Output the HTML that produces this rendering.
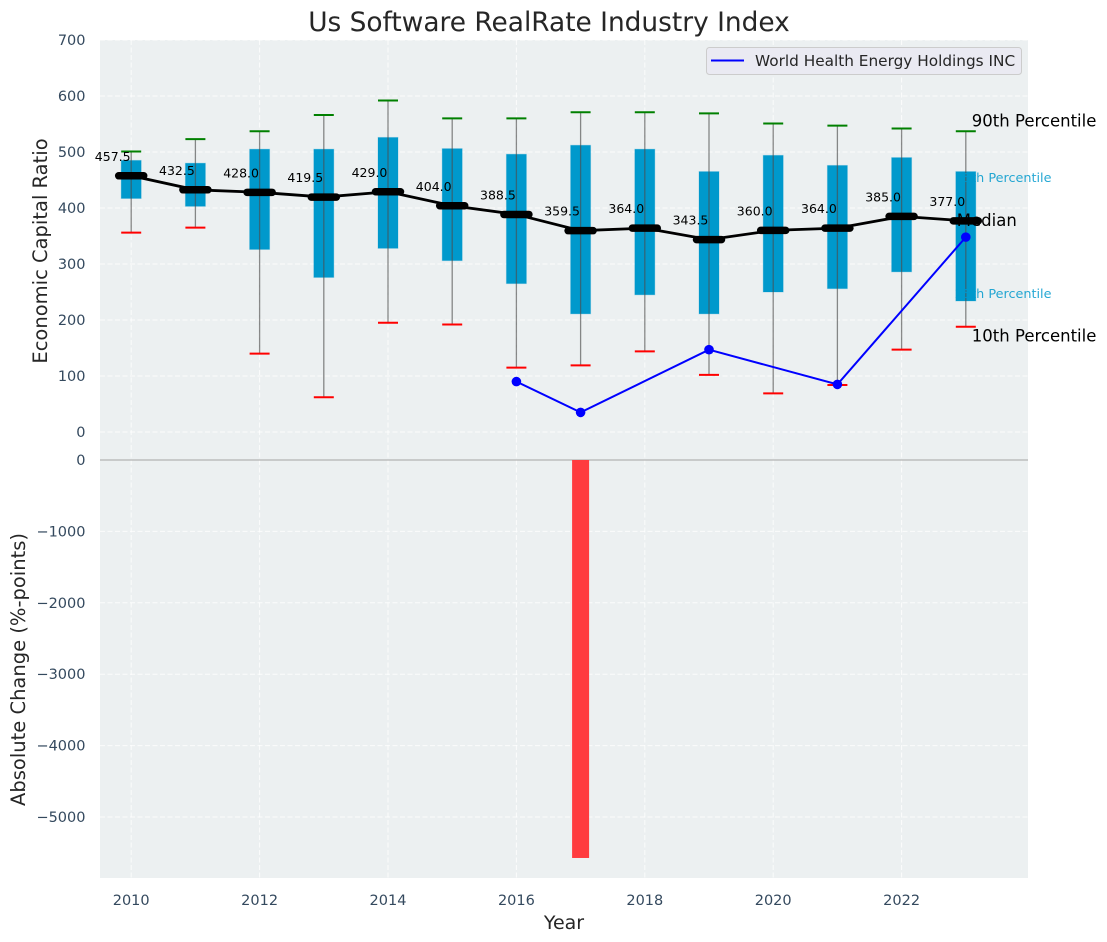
<!DOCTYPE html>
<html lang="en">
<head>
<meta charset="utf-8">
<title>Us Software RealRate Industry Index</title>
<style>
html,body{margin:0;padding:0;background:#fff;}
svg{display:block;font-family:"DejaVu Sans","Liberation Sans",sans-serif;}
</style>
</head>
<body>
<svg id="chart" xmlns="http://www.w3.org/2000/svg" width="1107" height="942" viewBox="0 0 1107 942">
  <rect x="0" y="0" width="1107" height="942" fill="#ffffff"/>
  <rect x="100" y="40" width="928" height="838" fill="#ecf0f1"/>
  <g id="grid"></g>
  <g id="change"></g>
  <g id="boxes"></g>
  <g id="medians"></g>
  <g id="company"></g>
  <g id="ticks"></g>
  <g id="annotations"></g>
  <text x="549" y="31" text-anchor="middle" font-size="26.4px" fill="#262626">Us Software RealRate Industry Index</text>
  <text transform="translate(47,251) rotate(-90)" text-anchor="middle" font-size="19.5px" fill="#262626">Economic Capital Ratio</text>
  <text transform="translate(25,669.5) rotate(-90)" text-anchor="middle" font-size="19.5px" fill="#262626">Absolute Change (%-points)</text>
  <text x="564" y="929" text-anchor="middle" font-size="19px" fill="#262626">Year</text>
  <g>
    <rect x="706.5" y="47.5" width="315" height="27" rx="3" fill="#eaeaf2" stroke="#cccccc" stroke-width="1"/>
    <line x1="711" y1="60.5" x2="744" y2="60.5" stroke="#0000ff" stroke-width="2"/>
    <text x="755" y="66" font-size="15.3px" fill="#262626">World Health Energy Holdings INC</text>
  </g>
</svg>
<script>
const years = [2010,2011,2012,2013,2014,2015,2016,2017,2018,2019,2020,2021,2022,2023];
const p10Values = [356,365,140,62,195,192,115,119,144,102,69,84,147,188];
const q1Values = [417,403,326,276,328,306,265,211,245,211,250,256,286,234];
const medianValues = [457.5,432.5,428,419.5,429,404,388.5,359.5,364,343.5,360,364,385,377];
const q3Values = [485,480,505,505,526,506,496,512,505,465,494,476,490,465];
const p90Values = [501,523,537,566,592,560,560,571,571,569,551,547,542,537];
const companyYears = [2016,2017,2019,2021,2023];
const companyValues = [90,35,147,85,348];
const changeYears = [2017];
const changeValues = [-5574];
const xTickLabels = [2010,2012,2014,2016,2018,2020,2022];
const topTickLabels = [0,100,200,300,400,500,600,700];
const bottomTickLabels = [0,-1000,-2000,-3000,-4000,-5000];

const NS = 'http://www.w3.org/2000/svg';
function xAxis(v){ return 131.2 + (v - 2010) * 64.2; }
function yTop(v){ return 432 - v * 0.56; }
function yBottom(v){ return 460 - v * 0.0714; }
function mk(parentId, tag, attrs, text){
  const el = document.createElementNS(NS, tag);
  for (const k in attrs) el.setAttribute(k, attrs[k]);
  if (text !== undefined) el.textContent = text;
  document.getElementById(parentId).appendChild(el);
  return el;
}
const gridStyle = {stroke:'#ffffff','stroke-width':1,'stroke-dasharray':'5 2.5','stroke-opacity':0.8};
let el;

/* grid */
xTickLabels.forEach(function(t){
  el = mk('grid','line',Object.assign({x1:xAxis(t),x2:xAxis(t),y1:40,y2:878},gridStyle));
  
  
});
topTickLabels.forEach(function(t){
  el = mk('grid','line',Object.assign({x1:100,x2:1028,y1:yTop(t),y2:yTop(t)},gridStyle));
  
  
});
bottomTickLabels.forEach(function(t){
  if (t === 0) return;
  el = mk('grid','line',Object.assign({x1:100,x2:1028,y1:yBottom(t),y2:yBottom(t)},gridStyle));
  
  
});

/* change bars */
el = mk('change','line',{x1:100,x2:1028,y1:yBottom(0),y2:yBottom(0),stroke:'#b3b3b3','stroke-width':1.2});


changeYears.forEach(function(y,i){
  const v = changeValues[i];
  el = mk('change','rect',{x:xAxis(y)-8.5,width:17,y:yBottom(0),height:yBottom(v)-yBottom(0),fill:'#ff3b3f'});
  
  
});

/* boxes and whiskers */
years.forEach(function(y,i){
  const x = xAxis(y);
  el = mk('boxes','rect',{x:x-10,width:20,y:yTop(q3Values[i]),height:yTop(q1Values[i])-yTop(q3Values[i]),fill:'#0099cc',stroke:'#0099cc','stroke-opacity':0.25,'stroke-width':1});
  
  
  el = mk('boxes','line',{x1:x,x2:x,y1:yTop(p90Values[i]),y2:yTop(p10Values[i]),stroke:'#4d4d4d','stroke-opacity':0.65,'stroke-width':1.3});
  
  
  el = mk('boxes','line',{x1:x-10,x2:x+10,y1:yTop(p90Values[i]),y2:yTop(p90Values[i]),stroke:'#008000','stroke-width':2});
  
  
  el = mk('boxes','line',{x1:x-10,x2:x+10,y1:yTop(p10Values[i]),y2:yTop(p10Values[i]),stroke:'#ff0000','stroke-width':2});
  
  
});

/* median line */
el = mk('medians','polyline',{points:years.map(function(y,i){return xAxis(y)+','+yTop(medianValues[i]);}).join(' '),fill:'none',stroke:'#000000','stroke-width':2.8});


years.forEach(function(y,i){
  const x = xAxis(y), yy = yTop(medianValues[i]);
  el = mk('medians','line',{x1:x-12.5,x2:x+12.5,y1:yy,y2:yy,stroke:'#000000','stroke-width':7.5,'stroke-linecap':'round'});
  
  
  el = mk('medians','text',{x:x-18.5,y:yy-15,'text-anchor':'middle','font-size':'12.5px',fill:'#000000'},medianValues[i].toFixed(1));
  
  
});

/* company series */
el = mk('company','polyline',{points:companyYears.map(function(y,i){return xAxis(y)+','+yTop(companyValues[i]);}).join(' '),fill:'none',stroke:'#0000ff','stroke-width':2});


companyYears.forEach(function(y,i){
  el = mk('company','circle',{cx:xAxis(y),cy:yTop(companyValues[i]),r:4.8,fill:'#0000ff'});
  
  
});

/* tick labels */
xTickLabels.forEach(function(t){
  el = mk('ticks','text',{x:xAxis(t),y:905,'text-anchor':'middle','font-size':'14.5px',fill:'#34495e'},String(t));
  
  
});
topTickLabels.forEach(function(t){
  el = mk('ticks','text',{x:85.5,y:yTop(t)+5,'text-anchor':'end','font-size':'14.5px',fill:'#34495e'},String(t));
  
  
});
bottomTickLabels.forEach(function(t){
  el = mk('ticks','text',{x:85.5,y:yBottom(t)+5,'text-anchor':'end','font-size':'14.5px',fill:'#34495e'},String(t).replace('-','\u2212'));
  
  
});

/* annotations */
const last = years.length - 1;
const lastX = xAxis(years[last]);
el = mk('annotations','text',{x:lastX+6,y:yTop(p90Values[last])-5,'font-size':'16.5px',fill:'#000000'},'90th Percentile');


el = mk('annotations','text',{x:lastX+6,y:yTop(p10Values[last])+15,'font-size':'16.5px',fill:'#000000'},'10th Percentile');


el = mk('annotations','text',{x:lastX-9,y:yTop(medianValues[last])+5,'font-size':'16.5px',fill:'#000000'},'Median');


el = mk('annotations','text',{x:1051.5,y:182,'text-anchor':'end','font-size':'12.8px',fill:'#0099cc','fill-opacity':0.85},'75th Percentile');


el = mk('annotations','text',{x:1051.5,y:298,'text-anchor':'end','font-size':'12.8px',fill:'#0099cc','fill-opacity':0.85},'25th Percentile');


</script>
</body>
</html>
